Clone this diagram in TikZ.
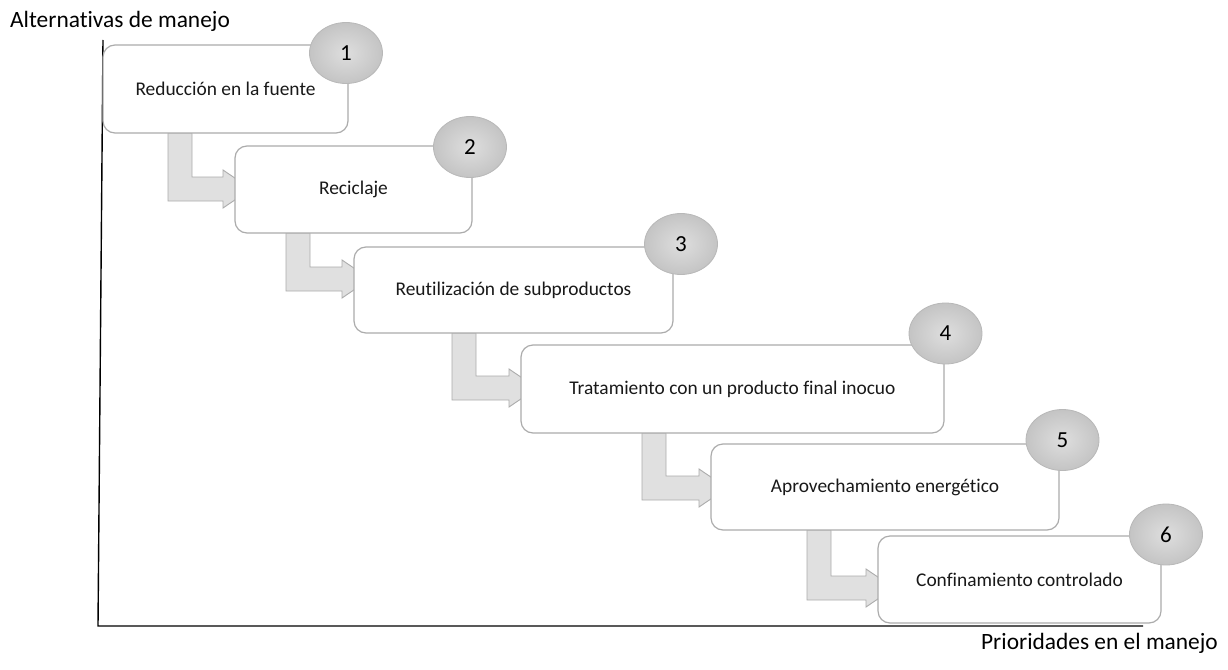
\documentclass[tikz,border=0pt]{standalone}
\usepackage{fontspec}
\setmainfont[Ligatures=NoCommon]{Carlito}
\usetikzlibrary{shapes.geometric,calc}
\definecolor{boxline}{RGB}{172,172,172}
\definecolor{arrowfill}{RGB}{224,224,224}
\definecolor{arrowline}{RGB}{172,172,172}
\definecolor{circin}{RGB}{222,222,222}
\definecolor{circout}{RGB}{196,196,196}
\definecolor{circline}{RGB}{184,184,184}
\tikzset{
  stepbox/.style={draw=boxline, line width=1.2pt, fill=white, rounded corners=12pt,
    inner sep=0pt, outer sep=0pt, font=\fontsize{19.4}{23}\selectfont, text=black!90},
  numbadge/.style={ellipse, draw=circline, line width=0.8pt, shading=radial,
    inner color=circin, outer color=circout, minimum width=73pt, minimum height=61pt,
    inner sep=0pt, font=\fontsize{23}{27}\selectfont},
  bendarrow/.style={fill=arrowfill, draw=arrowline, line width=0.9pt},
  axisline/.style={draw=black, line width=1.4pt},
  axislabel/.style={font=\fontsize{23.4}{28}\selectfont, inner sep=0pt}
}
% #1 from box, #2 to box, #3 shaft left x (px), #4 band bottom y (px)
\newcommand\bentarrow[4]{%
  \path[bendarrow] let \p1=(#1.south), \p2=(#2.west) in
    (#3pt,\y1) -- (#3pt+24pt,\y1) -- (#3pt+24pt,-#4pt+24pt)
    -- (\x2-12pt,-#4pt+24pt) -- (\x2-12pt,-#4pt+31pt)
    -- (\x2+16pt,-#4pt+12pt)
    -- (\x2-12pt,-#4pt-7pt) -- (\x2-12pt,-#4pt) -- (#3pt,-#4pt) -- cycle;}
\begin{document}
\begin{tikzpicture}[x=1pt,y=-1pt]
\useasboundingbox (0,0) rectangle (1228,669);
\fill[white] (0,0) rectangle (1228,669);

% axes
\coordinate (ytop) at (103,40);
\coordinate (origin) at (98,626);
\coordinate (xend) at (1143,626);
\draw[axisline] (ytop) -- (origin) -- (xend);
\node[axislabel, anchor=west] (ylab) at (10,21) {Alternativas de manejo};
\node[axislabel, anchor=east] (xlab) at (1218,643) {Prioridades en el manejo};

% box centres
\path (225.5,89) coordinate (c1) (353.5,189.5) coordinate (c2) (513.5,290) coordinate (c3)
      (732.5,389) coordinate (c4) (885,487) coordinate (c5) (1019.5,579.5) coordinate (c6);

% invisible placeholders to get anchors for arrows
\node[stepbox, draw=none, fill=none, minimum width=245pt, minimum height=88pt] (b1) at (c1) {};
\node[stepbox, draw=none, fill=none, minimum width=237pt, minimum height=87pt] (b2) at (c2) {};
\node[stepbox, draw=none, fill=none, minimum width=319pt, minimum height=86pt] (b3) at (c3) {};
\node[stepbox, draw=none, fill=none, minimum width=423pt, minimum height=88pt] (b4) at (c4) {};
\node[stepbox, draw=none, fill=none, minimum width=348pt, minimum height=86pt] (b5) at (c5) {};
\node[stepbox, draw=none, fill=none, minimum width=283pt, minimum height=87pt] (b6) at (c6) {};

% bent arrows
\bentarrow{b1}{b2}{168}{201}
\bentarrow{b2}{b3}{286}{291}
\bentarrow{b3}{b4}{452}{400}
\bentarrow{b4}{b5}{642}{500}
\bentarrow{b5}{b6}{807}{600}

% boxes
\node[stepbox, minimum width=245pt, minimum height=88pt] (box1) at (c1) {Reducción en la fuente};
\node[stepbox, minimum width=237pt, minimum height=87pt] (box2) at (c2) {Reciclaje};
\node[stepbox, minimum width=319pt, minimum height=86pt] (box3) at (c3) {Reutilización de subproductos};
\node[stepbox, minimum width=423pt, minimum height=88pt] (box4) at (c4) {Tratamiento con un producto final inocuo};
\node[stepbox, minimum width=348pt, minimum height=86pt] (box5) at (c5) {Aprovechamiento energético};
\node[stepbox, minimum width=283pt, minimum height=87pt] (box6) at (c6) {Confinamiento controlado};

% number badges
\node[numbadge] (n1) at (346,53) {1};
\node[numbadge] (n2) at (470,147) {2};
\node[numbadge] (n3) at (681,244) {3};
\node[numbadge] (n4) at (945.5,333.5) {4};
\node[numbadge] (n5) at (1062.5,440) {5};
\node[numbadge] (n6) at (1166,534.5) {6};
\end{tikzpicture}
\end{document}
